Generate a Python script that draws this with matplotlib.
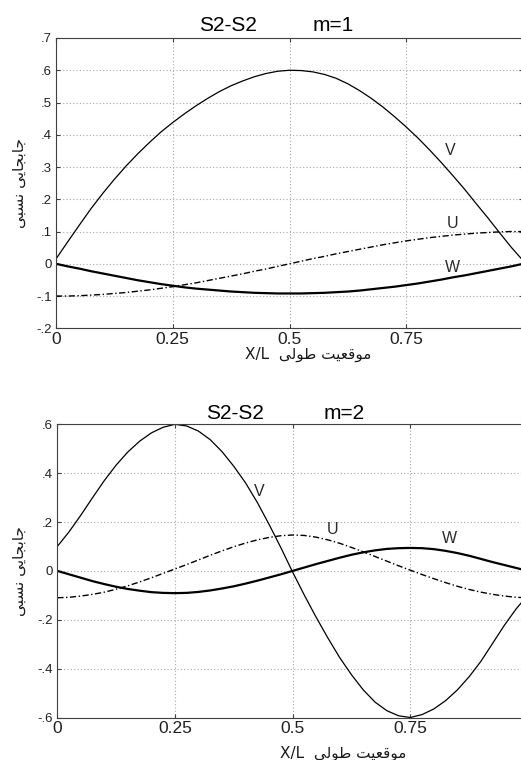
import numpy as np
import matplotlib
matplotlib.use("Agg")
import matplotlib.pyplot as plt

plt.rcParams['font.family'] = ['Liberation Sans', 'DejaVu Sans']

# Position along the span X/L (step 0.025), shared by both modes
x_pos = [0.000, 0.025, 0.050, 0.075, 0.100, 0.125, 0.150, 0.175, 0.200,
         0.225, 0.250, 0.275, 0.300, 0.325, 0.350, 0.375, 0.400, 0.425,
         0.450, 0.475, 0.500, 0.525, 0.550, 0.575, 0.600, 0.625, 0.650,
         0.675, 0.700, 0.725, 0.750, 0.775, 0.800, 0.825, 0.850, 0.875,
         0.900, 0.925, 0.950, 0.975, 1.000]

# Mode m=1 displacement components
v_m1 = [0.015, 0.068, 0.120, 0.171, 0.218, 0.262, 0.303, 0.341, 0.376,
        0.409, 0.438, 0.465, 0.490, 0.513, 0.534, 0.552, 0.567, 0.580,
        0.590, 0.597, 0.600, 0.599, 0.595, 0.587, 0.575, 0.558, 0.537,
        0.513, 0.486, 0.456, 0.424, 0.390, 0.353, 0.314, 0.273, 0.231,
        0.186, 0.142, 0.096, 0.051, 0.010]
u_m1 = [-0.100, -0.100, -0.099, -0.097, -0.095, -0.092, -0.089, -0.085,
        -0.081, -0.076, -0.071, -0.065, -0.059, -0.052, -0.045, -0.038,
        -0.031, -0.023, -0.016, -0.008, 0.000, 0.008, 0.016, 0.023, 0.031,
        0.038, 0.045, 0.052, 0.059, 0.065, 0.071, 0.076, 0.081, 0.085,
        0.089, 0.092, 0.095, 0.097, 0.099, 0.100, 0.100]
w_m1 = [0.000, -0.008, -0.015, -0.023, -0.030, -0.037, -0.044, -0.051,
        -0.057, -0.063, -0.068, -0.073, -0.077, -0.080, -0.083, -0.086,
        -0.088, -0.090, -0.091, -0.092, -0.092, -0.092, -0.091, -0.090,
        -0.088, -0.086, -0.083, -0.079, -0.075, -0.071, -0.066, -0.061,
        -0.055, -0.049, -0.042, -0.036, -0.029, -0.022, -0.015, -0.008,
        0.000]

# Mode m=2 displacement components
v_m2 = [0.100, 0.160, 0.228, 0.300, 0.370, 0.433, 0.487, 0.531, 0.565,
        0.588, 0.600, 0.593, 0.572, 0.537, 0.488, 0.428, 0.360, 0.280,
        0.190, 0.095, -0.005, -0.100, -0.190, -0.275, -0.355, -0.425,
        -0.487, -0.537, -0.572, -0.593, -0.600, -0.588, -0.565, -0.531,
        -0.487, -0.433, -0.370, -0.296, -0.222, -0.155, -0.098]
u_m2 = [-0.110, -0.108, -0.103, -0.096, -0.087, -0.075, -0.061, -0.045,
        -0.028, -0.010, 0.008, 0.026, 0.045, 0.064, 0.082, 0.099, 0.114,
        0.127, 0.137, 0.144, 0.147, 0.145, 0.138, 0.127, 0.113, 0.096,
        0.078, 0.059, 0.040, 0.021, 0.003, -0.015, -0.032, -0.048, -0.063,
        -0.076, -0.087, -0.096, -0.103, -0.108, -0.110]
w_m2 = [0.000, -0.014, -0.028, -0.042, -0.054, -0.065, -0.074, -0.081,
        -0.087, -0.090, -0.091, -0.090, -0.086, -0.080, -0.072, -0.063,
        -0.052, -0.040, -0.027, -0.014, 0.000, 0.014, 0.028, 0.041, 0.054,
        0.066, 0.076, 0.084, 0.090, 0.093, 0.094, 0.093, 0.089, 0.082,
        0.073, 0.062, 0.049, 0.036, 0.024, 0.012, 0.000]

xticks = [0, 0.25, 0.5, 0.75]
xtick_labels = ['0', '0.25', '0.5', '0.75']
yticks_m1 = [0.7, 0.6, 0.5, 0.4, 0.3, 0.2, 0.1, 0.0, -0.1, -0.2]
ytick_labels_m1 = ['.7', '.6', '.5', '.4', '.3', '.2', '.1', '0', '-.1', '-.2']
yticks_m2 = [0.6, 0.4, 0.2, 0.0, -0.2, -0.4, -0.6]
ytick_labels_m2 = ['.6', '.4', '.2', '0', '-.2', '-.4', '-.6']

# where the curve names sit (data coords)
names_m1 = {'V': (0.844, 0.351), 'U': (0.850, 0.124), 'W': (0.848, -0.010)}
names_m2 = {'V': (0.430, 0.324), 'U': (0.585, 0.170), 'W': (0.834, 0.133)}

# Persian labels, pre-shaped (presentation forms, visual order)
ylabel_fa = '\ufef0\ufe92\ufeb4\ufee7 \ufef0\ufef3\ufe8e\ufea0\ufe91\ufe8e\ufe9f'
xlabel_fa = ('X/L  ' + '\ufef0\ufedf\ufeee\ufec3' + ' '
             + '\ufe96\ufef4\ufecc\ufed7\ufeee\ufee3')

W_PX, H_PX = 521, 760


def px_rect(left, top, right, bottom):
    return [left / W_PX, 1 - bottom / H_PX,
            (right - left) / W_PX, (bottom - top) / H_PX]


def mode_plot(ax, x, u, v, w, yticks, ylabels, ylim, names):
    ax.plot(x, v, color='black', lw=0.9)
    ax.plot(x, w, color='black', lw=1.6)
    ax.plot(x, u, color='black', lw=1.0, dashes=[4.5, 1.8, 1.0, 1.8])

    ax.set_xlim(0, 1)
    ax.set_ylim(*ylim)
    ax.set_xticks(xticks)
    ax.set_xticklabels(xtick_labels, fontsize=12.5)
    ax.set_yticks(yticks)
    ax.set_yticklabels(ylabels, fontsize=9.5)
    ax.tick_params(direction='in', length=3, top=True, right=True,
                   color='#404040', labelcolor='#202020')
    ax.tick_params(axis='x', pad=2.5)
    ax.tick_params(axis='y', pad=3)
    ax.grid(True, linestyle=(0, (1, 2)), color='#a8a8a8', lw=0.8)
    for s in ax.spines.values():
        s.set_color('#404040')
        s.set_linewidth(0.8)

    for name, (nx, ny) in names.items():
        ax.text(nx, ny, name, fontsize=11.5, color='#2a2a2a',
                ha='center', va='center')


fig = plt.figure(figsize=(W_PX / 100, H_PX / 100), dpi=100)

ax1 = fig.add_axes(px_rect(56, 38, 523, 328.3))
mode_plot(ax1, x_pos, u_m1, v_m1, w_m1, yticks_m1, ytick_labels_m1,
          (-0.2, 0.7), names_m1)

ax2 = fig.add_axes(px_rect(57.3, 424.3, 528, 717.5))
mode_plot(ax2, x_pos, u_m2, v_m2, w_m2, yticks_m2, ytick_labels_m2,
          (-0.6, 0.6), names_m2)

# titles
fig.text(228 / W_PX, 1 - 31 / H_PX, 'S2-S2', fontsize=15, ha='center',
         va='baseline')
fig.text(333 / W_PX, 1 - 31 / H_PX, 'm=1', fontsize=15, ha='center',
         va='baseline')
fig.text(235 / W_PX, 1 - 419 / H_PX, 'S2-S2', fontsize=15, ha='center',
         va='baseline')
fig.text(344 / W_PX, 1 - 419 / H_PX, 'm=2', fontsize=15, ha='center',
         va='baseline')

# axis labels
for yc in (183, 571):
    fig.text(19 / W_PX, 1 - yc / H_PX, ylabel_fa, rotation=90, fontsize=11,
             family=['DejaVu Sans'], ha='center', va='center',
             color='#1a1a1a')
fig.text(308 / W_PX, 1 - 354 / H_PX, xlabel_fa, fontsize=11,
         family=['DejaVu Sans'], ha='center', va='center', color='#1a1a1a')
fig.text(343 / W_PX, 1 - 753 / H_PX, xlabel_fa, fontsize=11,
         family=['DejaVu Sans'], ha='center', va='center', color='#1a1a1a')

fig.savefig('out.png', dpi=100, facecolor='white')
